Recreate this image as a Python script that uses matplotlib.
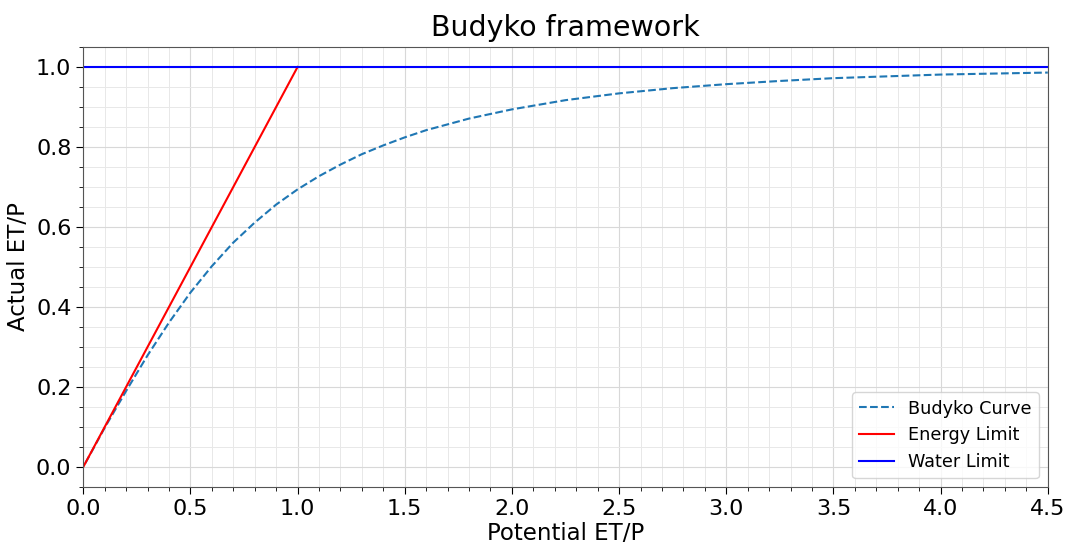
import matplotlib
matplotlib.use("Agg")
import matplotlib.pyplot as plt
from matplotlib.ticker import MultipleLocator

# Budyko curve: actual ET/P against potential ET/P (aridity index)
aridity = [0.01, 0.05, 0.1, 0.2, 0.3, 0.4, 0.5, 0.6, 0.7, 0.8, 0.9, 1.0,
           1.1, 1.2, 1.3, 1.4, 1.5, 1.6, 1.8, 2.0, 2.25, 2.5, 2.75, 3.0,
           3.25, 3.5, 4.0, 4.5]
evap_ratio = [0.010, 0.049, 0.098, 0.190, 0.279, 0.361, 0.436, 0.502, 0.561,
              0.611, 0.656, 0.694, 0.727, 0.756, 0.782, 0.804, 0.824, 0.842,
              0.871, 0.894, 0.917, 0.934, 0.947, 0.957, 0.965, 0.972, 0.981,
              0.986]

# Energy limit (ET = PET) and water limit (ET = P)
energy_x = [0.0, 1.0]
energy_y = [0.0, 1.0]
water_level = 1.0

fig, ax = plt.subplots(figsize=(10.67, 5.46), dpi=100)
fig.subplots_adjust(left=0.078, right=0.982, top=0.914, bottom=0.108)

ax.plot(aridity, evap_ratio, linestyle="--", color="#1f77b4", linewidth=1.5,
        label="Budyko Curve")
ax.plot(energy_x, energy_y, color="red", linewidth=1.5, label="Energy Limit")
ax.axhline(water_level, color="blue", linewidth=1.5, label="Water Limit")

ax.set_xlim(0, 4.5)
ax.set_ylim(-0.05, 1.05)
ax.xaxis.set_major_locator(MultipleLocator(0.5))
ax.xaxis.set_minor_locator(MultipleLocator(0.1))
ax.yaxis.set_major_locator(MultipleLocator(0.2))
ax.yaxis.set_minor_locator(MultipleLocator(0.05))
ax.grid(which="major", color="#d8d8d8", linewidth=0.8)
ax.grid(which="minor", color="#e8e8e8", linewidth=0.7)
ax.tick_params(which="major", labelsize=16, length=5)
ax.tick_params(which="minor", length=3)
for s in ax.spines.values():
    s.set_color("#555555")

ax.set_xlabel("Potential ET/P", fontsize=16.5, labelpad=2)
ax.set_ylabel("Actual ET/P", fontsize=16.5)
ax.set_title("Budyko framework", fontsize=20.5, pad=8)
ax.legend(loc="lower right", fontsize=12.7)

fig.savefig("out.png", dpi=100)
